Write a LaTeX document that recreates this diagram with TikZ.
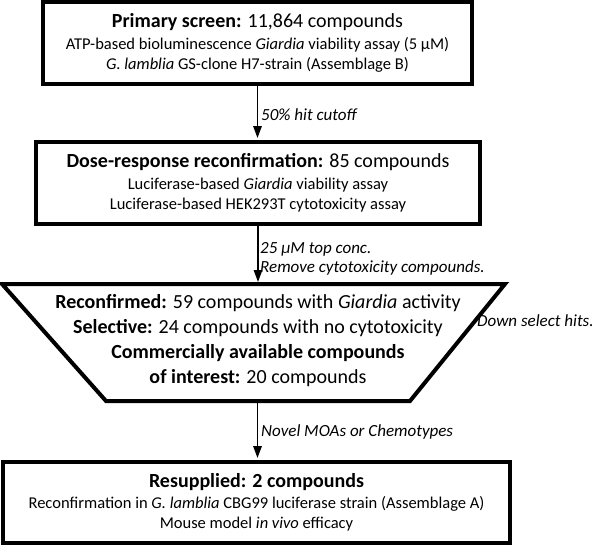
\documentclass[tikz,border=0pt]{standalone}
\usepackage{fontspec}
\setmainfont{Carlito}
\usetikzlibrary{positioning,arrows.meta}

\begin{document}
\begin{tikzpicture}[x=1pt,y=-1pt,
  stage/.style={draw,line width=4pt,align=center,inner sep=0pt,
    font=\fontsize{16.5}{20}\selectfont},
  head/.style={font=\fontsize{20}{25}\selectfont},
  flow/.style={-{Triangle[length=12pt,width=8.5pt]},line width=1.5pt},
  note/.style={font=\fontsize{17}{19.5}\selectfont\itshape,align=left,anchor=west,inner sep=0pt}]
  \useasboundingbox (0,0) rectangle (600,547);

  %primary screen
  \node[stage,minimum width=429pt,minimum height=82pt] (primary) at (257.5,43)
    {{\fontsize{20}{25}\selectfont\textbf{Primary screen:} 11,864 compounds}\\[2.5pt]
     ATP-based bioluminescence \textit{Giardia} viability assay (5 µM)\\
     \textit{G. lamblia} GS-clone H7-strain (Assemblage B)};

  %dose-response
  \node[stage,minimum width=444pt,minimum height=82pt] (dose) at (258,183)
    {{\fontsize{20}{25}\selectfont\textbf{Dose-response reconfirmation:} 85 compounds}\\[2.5pt]
     Luciferase-based \textit{Giardia} viability assay\\
     Luciferase-based HEK293T cytotoxicity assay};

  %down-selection funnel
  \coordinate (ftop) at (257.5,284);
  \coordinate (fbot) at (257.5,401);
  \draw[line width=4pt] (2,284) -- (505,284) -- (410,401) -- (106,401) -- cycle;
  \node[head,align=center] (funnel) at (258,341)
    {\textbf{Reconfirmed:} 59 compounds with \textit{Giardia} activity\\
     \textbf{Selective:} 24 compounds with no cytotoxicity\\
     \textbf{Commercially available compounds}\\
     \textbf{of interest:} 20 compounds};

  %resupplied
  \node[stage,minimum width=507pt,minimum height=81pt] (resup) at (256.5,502.5)
    {{\fontsize{20}{25}\selectfont\textbf{Resupplied: 2 compounds}}\\[1.5pt]
     Reconfirmation in \textit{G. lamblia} CBG99 luciferase strain (Assemblage A)\\
     Mouse model \textit{in vivo} efficacy};

  %connectors
  \draw[flow,shorten >=2pt] (primary.south) -- (primary.south |- dose.north);
  \draw[flow,shorten >=2pt] (dose.south) -- (dose.south |- ftop);
  \draw[flow,shorten <=2pt,shorten >=2pt] (fbot) -- (fbot |- resup.north);

  %labels
  \node[note] (cutoff) at (261,115) {50\% hit cutoff};
  \node[note] (topconc) at (260,259) {25 µM top conc.\\Remove cytotoxicity compounds.};
  \node[note] (downsel) at (477,321) {Down select hits.};
  \node[note] (novel) at (261,432) {Novel MOAs or Chemotypes};
\end{tikzpicture}
\end{document}
